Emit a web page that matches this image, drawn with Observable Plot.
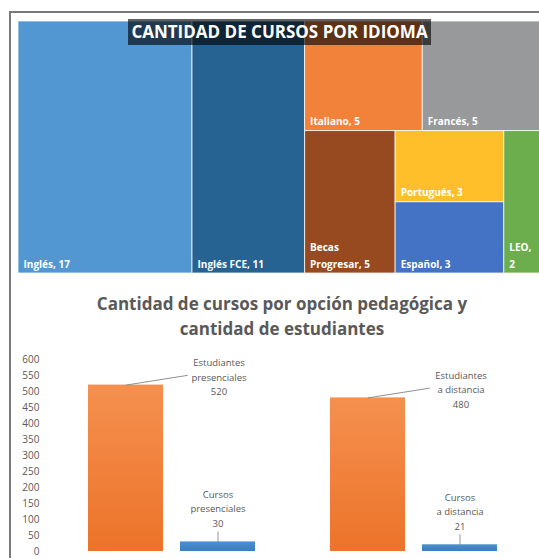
<!DOCTYPE html>
<html>
<head>
<meta charset="utf-8">
<script src="https://cdn.jsdelivr.net/npm/d3@7"></script>
<script src="https://cdn.jsdelivr.net/npm/@observablehq/plot@0.6"></script>
<style>
html, body { margin: 0; padding: 0; background: #fff; }
#page { position: relative; width: 539px; height: 558px; overflow: hidden; font-family: "Open Sans", sans-serif; }
#frame { position: absolute; left: 9px; top: 11px; width: 700px; height: 700px; border: 2px solid #7a7a7a; pointer-events: none; z-index: 5; }
#tm { position: absolute; left: 0; top: 0; }
#tmTitle { position: absolute; left: 0; top: 19px; width: 559px; text-align: center; z-index: 3; }
#tmTitle span { display: inline-block; background: rgba(0,0,0,0.62); color: #fff; font-weight: bold; font-size: 17px; line-height: 26px; padding: 0 3px; }
#bars { position: absolute; left: 0; top: 280px; }
#barTitle { position: absolute; left: 0; top: 291px; width: 564px; text-align: center; font-weight: bold; font-size: 17px; line-height: 25px; color: #595959; }
</style>
</head>
<body>
<div id="page">
  <div id="tm"></div>
  <div id="tmTitle"><span>CANTIDAD DE CURSOS POR IDIOMA</span></div>
  <div id="barTitle">Cantidad de cursos por opción pedagógica y<br>cantidad de estudiantes</div>
  <div id="bars"></div>
  <div id="frame"></div>
</div>
<script>
// ---- Data: treemap ----
const idiomas = ["Inglés", "Inglés FCE", "Italiano", "Francés", "Becas Progresar", "Portugués", "Español", "LEO"];
const cursosPorIdioma = [17, 11, 5, 5, 5, 3, 3, 2];

// ---- Data: bar chart ----
const modalidades = ["presenciales", "a distancia"];
const series = ["Estudiantes", "Cursos"];
const estudiantes = [520, 480];
const cursos = [30, 21];
const yTicks = [0, 50, 100, 150, 200, 250, 300, 350, 400, 450, 500, 550, 600];

// ---- Styles ----
const colores = {
  "Inglés": "#5397D2",
  "Inglés FCE": "#266292",
  "Italiano": "#F2813A",
  "Francés": "#97999A",
  "Becas Progresar": "#974A1F",
  "Portugués": "#FEBF2B",
  "Español": "#4472C4",
  "LEO": "#6CAE4D"
};

// ---- Treemap layout (slice & dice nesting like the original) ----
const hoja = n => ({name: n, value: cursosPorIdioma[idiomas.indexOf(n)]});
const estructura = {children: [
  hoja("Inglés"),
  hoja("Inglés FCE"),
  {children: [
    {children: [hoja("Italiano"), hoja("Francés")]},
    {children: [hoja("Becas Progresar"), {children: [hoja("Portugués"), hoja("Español")]}, hoja("LEO")]}
  ]}
]};
const root = d3.hierarchy(estructura).sum(d => d.value || 0);
d3.treemap().tile(d3.treemapSliceDice).size([1, 1])(root);

const TM_X = [18, 540], TM_Y = [21, 273];
const ctx = document.createElement("canvas").getContext("2d");
ctx.font = 'bold 10px "Open Sans"';
function wrap(text, maxW) {
  const words = text.split(" ");
  const lines = [];
  let cur = "";
  for (const w of words) {
    const t = cur ? cur + " " + w : w;
    if (cur && ctx.measureText(t).width > maxW) { lines.push(cur); cur = w; }
    else cur = t;
  }
  if (cur) lines.push(cur);
  return lines.join("\n");
}
const celdas = root.leaves().map(n => {
  const wpx = (n.x1 - n.x0) * (TM_X[1] - TM_X[0]);
  return {name: n.data.name, value: n.value, x0: n.x0, x1: n.x1, y0: n.y0, y1: n.y1,
          label: wrap(`${n.data.name}, ${n.value}`, wpx - 10)};
});

const tm = Plot.plot({
  width: 539, height: 280, margin: 0,
  style: {fontFamily: '"Open Sans", sans-serif', background: "transparent"},
  x: {domain: [0, 1], range: TM_X, axis: null},
  y: {domain: [0, 1], range: TM_Y, axis: null},
  color: {type: "identity"},
  marks: [
    Plot.rect(celdas, {x1: "x0", x2: "x1", y1: "y0", y2: "y1", fill: d => colores[d.name],
      stroke: "#fff", strokeOpacity: 0.75, strokeWidth: 1}),
    Plot.text(celdas, {x: "x0", y: "y1", text: "label", fill: "#fff", fontWeight: "bold", fontSize: 10,
      textAnchor: "start", lineAnchor: "bottom", lineHeight: 1.65, dx: 5, dy: -6})
  ]
});
document.getElementById("tm").append(tm);

// ---- Bar chart ----
const filas = modalidades.flatMap((m, i) => [
  {modalidad: m, serie: series[0], valor: estudiantes[i]},
  {modalidad: m, serie: series[1], valor: cursos[i]}
]);
const filasEst = filas.filter(d => d.serie === "Estudiantes");
const filasCur = filas.filter(d => d.serie === "Cursos");
const linea = {draw(context, l) { context.moveTo(0, 0); context.lineTo(0, -l); }};
const etiqueta = d => `${d.serie}\n${d.modalidad}\n${d.valor}`;

const bars = Plot.plot({
  width: 539, height: 278,
  marginTop: 79, marginBottom: 7, marginLeft: 49, marginRight: 5,
  style: {fontFamily: '"Open Sans", sans-serif', fontSize: "10px", color: "#595959", background: "transparent"},
  fx: {domain: modalidades, padding: 0, axis: null},
  x: {domain: series, paddingInner: 0.19, paddingOuter: 0.4, axis: null},
  y: {domain: [0, 600], ticks: yTicks, tickSize: 0, tickPadding: 11, label: null},
  marks: [
    Plot.barY(filasEst, {fx: "modalidad", x: "serie", y: "valor", fill: "url(#gradNaranja)"}),
    Plot.barY(filasCur, {fx: "modalidad", x: "serie", y: "valor", fill: "url(#gradAzul)"}),
    Plot.vector(filasEst, {fx: "modalidad", x: "serie", y: "valor", length: 62, rotate: 81, anchor: "start",
      shape: linea, stroke: "#8a8a8a", strokeWidth: 0.9, fill: "none"}),
    Plot.vector(filasCur, {fx: "modalidad", x: "serie", y: "valor", length: 10, rotate: 0, anchor: "start",
      shape: linea, stroke: "#8a8a8a", strokeWidth: 0.9, fill: "none"}),
    Plot.text(filasEst, {fx: "modalidad", x: "serie", y: "valor", text: etiqueta, dx: 93, dy: -9,
      lineHeight: 1.5, fill: "#595959", fontSize: 9.5}),
    Plot.text(filasCur, {fx: "modalidad", x: "serie", y: "valor", text: etiqueta, dy: -34,
      lineHeight: 1.5, fill: "#595959", fontSize: 9.5})
  ]
});

const NS = "http://www.w3.org/2000/svg";
const defs = document.createElementNS(NS, "defs");
function gradiente(id, arriba, abajo) {
  const g = document.createElementNS(NS, "linearGradient");
  g.setAttribute("id", id);
  g.setAttribute("x1", "0"); g.setAttribute("y1", "0"); g.setAttribute("x2", "0"); g.setAttribute("y2", "1");
  [[0, arriba], [1, abajo]].forEach(([o, c]) => {
    const s = document.createElementNS(NS, "stop");
    s.setAttribute("offset", o); s.setAttribute("stop-color", c);
    g.append(s);
  });
  defs.append(g);
}
gradiente("gradNaranja", "#F5904F", "#EC7329");
gradiente("gradAzul", "#4A90D2", "#3A7DC0");
const svgBars = bars.tagName.toLowerCase() === "svg" ? bars : bars.querySelector("svg");
svgBars.prepend(defs);
document.getElementById("bars").append(bars);
</script>
</body>
</html>
